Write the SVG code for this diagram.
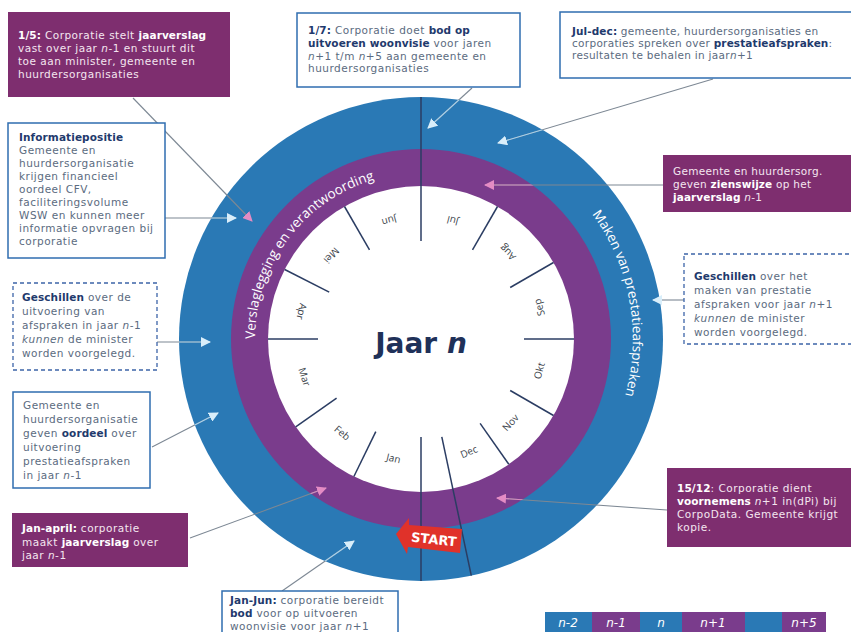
<svg xmlns="http://www.w3.org/2000/svg" xmlns:xlink="http://www.w3.org/1999/xlink" width="851" height="632" viewBox="0 0 851 632">
<style>
.bw{fill:#fff;stroke:#2f6db0;stroke-width:1.5}
.bd{fill:#fff;stroke:#3c64a8;stroke-width:1.3;stroke-dasharray:4 3}
.bp{fill:#7e2e6f}
.t{font-family:"DejaVu Sans",Verdana,sans-serif;font-size:10.5px;letter-spacing:0.5px;fill:#5b6b80}
.t3{letter-spacing:0.3px}
.tw{fill:#f4e6f0}
.b{font-weight:bold;fill:#1f3a6d;letter-spacing:0.1px}
.tw .b{fill:#fff}
.i{font-style:italic}
.m{font-family:"Open Sans","DejaVu Sans",sans-serif;font-size:10px;fill:#3a3f4a;text-anchor:middle;dominant-baseline:central}
.tick{stroke:#2b3d63;stroke-width:1.5}
.ring{font-family:"Open Sans","DejaVu Sans",sans-serif;font-size:13.5px;fill:#fff}
.cg{fill:none;stroke:#7d8894;stroke-width:1.1}
.lg{font-family:"DejaVu Sans",sans-serif;font-size:12px;font-style:italic;fill:#fff;text-anchor:middle}
</style>
<defs>
<marker id="aw" viewBox="0 0 10 10" refX="9" refY="5" markerWidth="10" markerHeight="10" markerUnits="userSpaceOnUse" orient="auto"><path d="M0,0 L10,5 L0,10 z" fill="#d9eefa"/></marker>
<marker id="ap" viewBox="0 0 10 10" refX="9" refY="5" markerWidth="10" markerHeight="10" markerUnits="userSpaceOnUse" orient="auto"><path d="M0,0 L10,5 L0,10 z" fill="#e48cc4"/></marker>
<clipPath id="cb"><circle cx="421" cy="339" r="242"/></clipPath>
<clipPath id="cpu"><circle cx="421" cy="339" r="190"/></clipPath>
<path id="pv" d="M255,339 A166,166 0 0 1 478,183"/>
<path id="pm" d="M592,214 A211,211 0 0 1 583,475"/>
</defs>

<g id="wheel">
<circle cx="421" cy="339" r="242" fill="#2a79b5"/>
<circle cx="421" cy="339" r="190" fill="#7a3c8c"/>
<circle cx="421" cy="339" r="153" fill="#fff"/>
<text class="ring"><textPath xlink:href="#pv" href="#pv">Verslaglegging en verantwoording</textPath></text>
<text class="ring"><textPath xlink:href="#pm" href="#pm">Maken van prestatieafspraken</textPath></text>
<g id="ticks">
<line class="tick" x1="421" y1="241" x2="421" y2="97"/>
<line class="tick" x1="421" y1="437" x2="421" y2="581"/>
<line class="tick" x1="441.8" y1="436.8" x2="471.3" y2="575.7"/>
<line class="tick" x1="472.5" y1="249.8" x2="497.5" y2="206.5"/>
<line class="tick" x1="510.2" y1="287.5" x2="553.5" y2="262.5"/>
<line class="tick" x1="524" y1="339" x2="574" y2="339"/>
<line class="tick" x1="510.2" y1="390.5" x2="553.5" y2="415.5"/>
<line class="tick" x1="480.1" y1="423.4" x2="508.8" y2="464.3"/>
<line class="tick" x1="375.8" y1="431.6" x2="353.9" y2="476.5"/>
<line class="tick" x1="336.6" y1="398.1" x2="295.7" y2="426.8"/>
<line class="tick" x1="318" y1="339" x2="268" y2="339"/>
<line class="tick" x1="329.2" y1="292.2" x2="284.7" y2="269.5"/>
<line class="tick" x1="369.5" y1="249.8" x2="344.5" y2="206.5"/>
</g>
<g id="months">
<text class="m" transform="translate(393.6,457.9) rotate(13)">Jan</text>
<text class="m" transform="translate(342.6,432.5) rotate(40)">Feb</text>
<text class="m" transform="translate(305,376.7) rotate(72)">Mar</text>
<text class="m" transform="translate(302.1,311.6) rotate(103)">Apr</text>
<text class="m" transform="translate(331.8,255.8) rotate(133)">Mei</text>
<text class="m" transform="translate(389.4,221.2) rotate(165)">Jun</text>
<text class="m" transform="translate(452.6,221.2) rotate(195)">Jul</text>
<text class="m" transform="translate(507.3,252.7) rotate(225)">Aug</text>
<text class="m" transform="translate(538.8,307.4) rotate(255)">Sep</text>
<text class="m" transform="translate(538.8,370.6) rotate(-75)">Okt</text>
<text class="m" transform="translate(510.2,422.2) rotate(-47)">Nov</text>
<text class="m" transform="translate(468.7,451.3) rotate(-23)">Dec</text>
</g>
<text x="421" y="353" font-family="'DejaVu Sans',Verdana,sans-serif" font-size="28" font-weight="bold" fill="#1f3159" text-anchor="middle">Jaar <tspan font-style="italic">n</tspan></text>
</g>

<g id="start">
<path d="M396,534 L409,518 L409,525 L462,529 L460,553 L408,547 L407,554 Z" fill="#e0322a"/>
<text x="434" y="544" transform="rotate(6,434,539)" font-family="'DejaVu Sans',sans-serif" font-size="13" font-weight="bold" fill="#fff" text-anchor="middle">START</text>
</g>

<g id="connectors">
<defs>
<path id="c1" d="M133,98 L252,221"/>
<path id="c2" d="M165,218 L236,218"/>
<path id="c3" d="M472,88 L428,128"/>
<path id="c4" d="M713,79 L498,143"/>
<path id="c5" d="M663,185 L485,185"/>
<path id="c6" d="M684,300 L653,300"/>
<path id="c7" d="M667,510 L497,498"/>
<path id="c8" d="M282,591 L354,541"/>
<path id="c9" d="M190,538 L326,488"/>
<path id="c10" d="M152,447 L218,413"/>
<path id="c11" d="M157,342 L210,342"/>
</defs>
<use href="#c1" class="cg"/>
<use href="#c2" class="cg"/>
<use href="#c3" class="cg"/>
<use href="#c4" class="cg"/>
<use href="#c5" class="cg"/>
<use href="#c6" class="cg"/>
<use href="#c7" class="cg"/>
<use href="#c8" class="cg"/>
<use href="#c9" class="cg"/>
<use href="#c10" class="cg"/>
<use href="#c11" class="cg"/>
<g clip-path="url(#cb)" fill="none" stroke="#a8d3ee" stroke-width="1.1">
<use href="#c2"/><use href="#c3"/><use href="#c4"/><use href="#c6"/><use href="#c8"/><use href="#c10"/><use href="#c11"/>
</g>
<g clip-path="url(#cpu)" fill="none" stroke="#d88bbf" stroke-width="1.1">
<use href="#c5"/><use href="#c7"/><use href="#c9"/>
</g>
<g fill="none" stroke="none">
<use href="#c1" marker-end="url(#ap)"/>
<use href="#c2" marker-end="url(#aw)"/>
<use href="#c3" marker-end="url(#aw)"/>
<use href="#c4" marker-end="url(#aw)"/>
<use href="#c5" marker-end="url(#ap)"/>
<use href="#c6" marker-end="url(#aw)"/>
<use href="#c7" marker-end="url(#ap)"/>
<use href="#c8" marker-end="url(#aw)"/>
<use href="#c9" marker-end="url(#ap)"/>
<use href="#c10" marker-end="url(#aw)"/>
<use href="#c11" marker-end="url(#aw)"/>
</g>
</g>

<g id="n-15">
<rect class="bp" x="8" y="12" width="222" height="85"/>
<text class="t tw" x="18" y="39"><tspan class="b">1/5:</tspan> Corporatie stelt <tspan class="b">jaarverslag</tspan></text>
<text class="t tw" x="18" y="52">vast over jaar <tspan class="i">n</tspan>-1 en stuurt dit</text>
<text class="t tw" x="18" y="65">toe aan minister, gemeente en</text>
<text class="t tw" x="18" y="78">huurdersorganisaties</text>
</g>

<g id="n-17">
<rect class="bw" x="297" y="13" width="223" height="74"/>
<text class="t" x="308" y="34"><tspan class="b">1/7:</tspan> Corporatie doet <tspan class="b">bod op</tspan></text>
<text class="t" x="308" y="47"><tspan class="b">uitvoeren woonvisie</tspan> voor jaren</text>
<text class="t" x="308" y="60"><tspan class="i">n</tspan>+1 t/m <tspan class="i">n</tspan>+5 aan gemeente en</text>
<text class="t" x="308" y="72">huurdersorganisaties</text>
</g>

<g id="n-juldec">
<rect class="bw" x="560" y="12" width="295" height="66"/>
<text class="t t3" x="572" y="35"><tspan class="b">Jul-dec:</tspan> gemeente, huurdersorganisaties en</text>
<text class="t t3" x="572" y="47">corporaties spreken over <tspan class="b">prestatieafspraken</tspan>:</text>
<text class="t t3" x="572" y="59">resultaten te behalen in jaar<tspan class="i">n</tspan>+1</text>
</g>

<g id="n-info">
<rect class="bw" x="8" y="123" width="157" height="135"/>
<text class="t" x="19" y="141"><tspan class="b">Informatiepositie</tspan></text>
<text class="t" x="19" y="154">Gemeente en</text>
<text class="t" x="19" y="167">huurdersorganisatie</text>
<text class="t" x="19" y="180">krijgen financieel</text>
<text class="t" x="19" y="193">oordeel CFV,</text>
<text class="t" x="19" y="206">faciliteringsvolume</text>
<text class="t" x="19" y="219">WSW en kunnen meer</text>
<text class="t" x="19" y="232">informatie opvragen bij</text>
<text class="t" x="19" y="245">corporatie</text>
</g>

<g id="n-geschil-l">
<rect class="bd" x="13" y="283" width="144" height="87"/>
<text class="t" x="22" y="301"><tspan class="b">Geschillen</tspan> over de</text>
<text class="t" x="22" y="315">uitvoering van</text>
<text class="t" x="22" y="329">afspraken in jaar <tspan class="i">n</tspan>-1</text>
<text class="t" x="22" y="343"><tspan class="i">kunnen</tspan> de minister</text>
<text class="t" x="22" y="357">worden voorgelegd.</text>
</g>

<g id="n-oordeel">
<rect class="bw" x="13" y="392" width="137" height="96"/>
<text class="t" x="23" y="409">Gemeente en</text>
<text class="t" x="23" y="423">huurdersorganisatie</text>
<text class="t" x="23" y="437">geven <tspan class="b">oordeel</tspan> over</text>
<text class="t" x="23" y="451">uitvoering</text>
<text class="t" x="23" y="465">prestatieafspraken</text>
<text class="t" x="23" y="479">in jaar <tspan class="i">n</tspan>-1</text>
</g>

<g id="n-janapril">
<rect class="bp" x="12" y="513" width="176" height="54"/>
<text class="t tw" x="22" y="532"><tspan class="b">Jan-april:</tspan> corporatie</text>
<text class="t tw" x="22" y="546">maakt <tspan class="b">jaarverslag</tspan> over</text>
<text class="t tw" x="22" y="559">jaar <tspan class="i">n</tspan>-1</text>
</g>

<g id="n-janjun">
<rect class="bw" x="222" y="591" width="176" height="50"/>
<text class="t" x="230" y="604"><tspan class="b">Jan-Jun:</tspan> corporatie bereidt</text>
<text class="t" x="230" y="617"><tspan class="b">bod</tspan> voor op uitvoeren</text>
<text class="t" x="230" y="630">woonvisie voor jaar <tspan class="i">n</tspan>+1</text>
</g>

<g id="n-zienswijze">
<rect class="bp" x="663" y="155" width="192" height="57"/>
<text class="t tw t3" x="673" y="175">Gemeente en huurdersorg.</text>
<text class="t tw t3" x="673" y="188">geven <tspan class="b">zienswijze</tspan> op het</text>
<text class="t tw t3" x="673" y="201"><tspan class="b">jaarverslag</tspan> <tspan class="i">n</tspan>-1</text>
</g>

<g id="n-geschil-r">
<rect class="bd" x="684" y="254" width="172" height="90"/>
<text class="t" x="694" y="280"><tspan class="b">Geschillen</tspan> over het</text>
<text class="t" x="694" y="294">maken van prestatie</text>
<text class="t" x="694" y="308">afspraken voor jaar <tspan class="i">n</tspan>+1</text>
<text class="t" x="694" y="322"><tspan class="i">kunnen</tspan> de minister</text>
<text class="t" x="694" y="336">worden voorgelegd.</text>
</g>

<g id="n-1512">
<rect class="bp" x="667" y="468" width="188" height="79"/>
<text class="t tw" x="677" y="492"><tspan class="b">15/12</tspan>: Corporatie dient</text>
<text class="t tw" x="677" y="505"><tspan class="b">voornemens</tspan> <tspan class="i">n</tspan>+1 in(dPi) bij</text>
<text class="t tw" x="677" y="518">CorpoData. Gemeente krijgt</text>
<text class="t tw" x="677" y="531">kopie.</text>
</g>

<g id="legend">
<rect x="545" y="612" width="47" height="22" fill="#2a79b5"/>
<rect x="592" y="612" width="48" height="22" fill="#7a3c8c"/>
<rect x="640" y="612" width="42" height="22" fill="#2a79b5"/>
<rect x="682" y="612" width="63" height="22" fill="#7a3c8c"/>
<rect x="745" y="612" width="37" height="22" fill="#2a79b5"/>
<rect x="782" y="612" width="44" height="22" fill="#7a3c8c"/>
<text class="lg" x="568" y="627">n-2</text>
<text class="lg" x="616" y="627">n-1</text>
<text class="lg" x="661" y="627">n</text>
<text class="lg" x="713" y="627">n+1</text>
<text class="lg" x="804" y="627">n+5</text>
</g>
</svg>
